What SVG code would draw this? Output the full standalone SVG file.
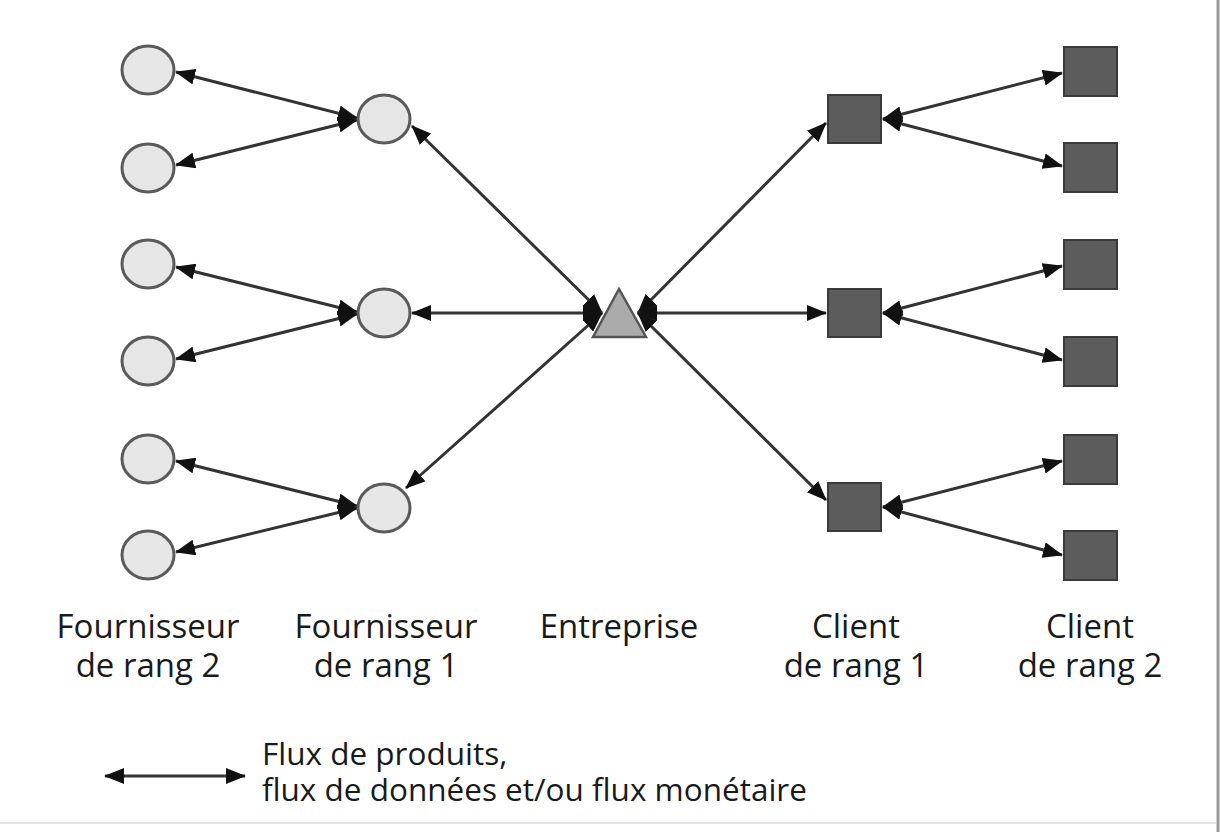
<svg xmlns="http://www.w3.org/2000/svg" width="1221" height="832" viewBox="0 0 1221 832">
  <style>
    .sup { fill: #e6e6e6; stroke: #5a5a5a; stroke-width: 3; }
    .cli { fill: #5c5c5c; stroke: #3a3a3a; stroke-width: 2; }
    .ent { fill: #ababab; stroke: #555; stroke-width: 2.5; }
    .flow { fill: none; stroke: #333; stroke-width: 3; marker-start: url(#head); marker-end: url(#head); }
    .lbl { font-family: "Open Sans", "Liberation Sans", sans-serif; font-size: 33px; fill: #1a1a1a; text-anchor: middle; }
    .leg { font-family: "Open Sans", "Liberation Sans", sans-serif; font-size: 31.5px; fill: #1a1a1a; }
  </style>
  <defs>
    <marker id="head" viewBox="0 0 20 16" refX="19" refY="8" markerWidth="20" markerHeight="16" markerUnits="userSpaceOnUse" orient="auto-start-reverse">
      <path d="M0,0 L20,8 L0,16 Z" fill="#111"/>
    </marker>
  </defs>

  <rect width="1221" height="832" fill="#fff"/>
  <!-- frame edges -->
  <line x1="1218" y1="0" x2="1218" y2="832" stroke="#9a9a9a" stroke-width="3"/>
  <line x1="0" y1="823" x2="1216" y2="823" stroke="#e4e4e4" stroke-width="2"/>

  <g id="connectors">
    <!-- tier-2 suppliers to tier-1 suppliers -->
    <line class="flow" x1="176" y1="72" x2="357" y2="118"/>
    <line class="flow" x1="176" y1="165" x2="357" y2="120"/>
    <line class="flow" x1="176" y1="267" x2="357" y2="312"/>
    <line class="flow" x1="176" y1="359" x2="357" y2="314"/>
    <line class="flow" x1="176" y1="461" x2="357" y2="506"/>
    <line class="flow" x1="176" y1="552" x2="357" y2="508"/>
    <!-- company to tier-1 suppliers -->
    <line class="flow" x1="602" y1="313" x2="412" y2="126"/>
    <line class="flow" x1="602" y1="313" x2="412" y2="313"/>
    <line class="flow" x1="602" y1="313" x2="406" y2="488"/>
    <!-- company to tier-1 clients -->
    <line class="flow" x1="638" y1="313" x2="826" y2="123"/>
    <line class="flow" x1="638" y1="313" x2="826" y2="313"/>
    <line class="flow" x1="638" y1="313" x2="826" y2="500"/>
    <!-- tier-1 clients to tier-2 clients -->
    <line class="flow" x1="883" y1="119" x2="1062" y2="73"/>
    <line class="flow" x1="883" y1="119" x2="1062" y2="166"/>
    <line class="flow" x1="883" y1="313" x2="1062" y2="266"/>
    <line class="flow" x1="883" y1="313" x2="1062" y2="360"/>
    <line class="flow" x1="883" y1="507" x2="1062" y2="461"/>
    <line class="flow" x1="883" y1="507" x2="1062" y2="555"/>
  </g>

  <g id="supplier-tier2">
    <ellipse class="sup" cx="148" cy="70" rx="26" ry="24"/>
    <ellipse class="sup" cx="148" cy="168" rx="26" ry="24"/>
    <ellipse class="sup" cx="148" cy="264" rx="26" ry="24"/>
    <ellipse class="sup" cx="148" cy="361" rx="26" ry="24"/>
    <ellipse class="sup" cx="148" cy="459" rx="26" ry="24"/>
    <ellipse class="sup" cx="148" cy="555" rx="26" ry="24"/>
  </g>

  <g id="supplier-tier1">
    <ellipse class="sup" cx="384" cy="119" rx="26" ry="24"/>
    <ellipse class="sup" cx="384" cy="313" rx="26" ry="24"/>
    <ellipse class="sup" cx="384" cy="508" rx="26" ry="24"/>
  </g>

  <g id="company">
    <polygon class="ent" points="619,289 646,337 593,337"/>
  </g>

  <g id="client-tier1">
    <rect class="cli" x="828" y="95" width="53" height="48"/>
    <rect class="cli" x="828" y="289" width="53" height="48"/>
    <rect class="cli" x="828" y="483" width="53" height="48"/>
  </g>

  <g id="client-tier2">
    <rect class="cli" x="1064" y="47" width="53" height="49"/>
    <rect class="cli" x="1064" y="143" width="53" height="49"/>
    <rect class="cli" x="1064" y="240" width="53" height="49"/>
    <rect class="cli" x="1064" y="337" width="53" height="49"/>
    <rect class="cli" x="1064" y="435" width="53" height="49"/>
    <rect class="cli" x="1064" y="531" width="53" height="49"/>
  </g>

  <g id="labels">
    <text class="lbl" x="148" y="638">Fournisseur</text>
    <text class="lbl" x="148" y="677">de rang 2</text>
    <text class="lbl" x="386" y="638">Fournisseur</text>
    <text class="lbl" x="386" y="677">de rang 1</text>
    <text class="lbl" x="619" y="638">Entreprise</text>
    <text class="lbl" x="856" y="638">Client</text>
    <text class="lbl" x="856" y="677">de rang 1</text>
    <text class="lbl" x="1090" y="638">Client</text>
    <text class="lbl" x="1090" y="677">de rang 2</text>
  </g>

  <g id="legend">
    <line class="flow" x1="105" y1="776" x2="245" y2="776"/>
    <text class="leg" x="262" y="765">Flux de produits,</text>
    <text class="leg" x="262" y="801">flux de données et/ou flux monétaire</text>
  </g>
</svg>
